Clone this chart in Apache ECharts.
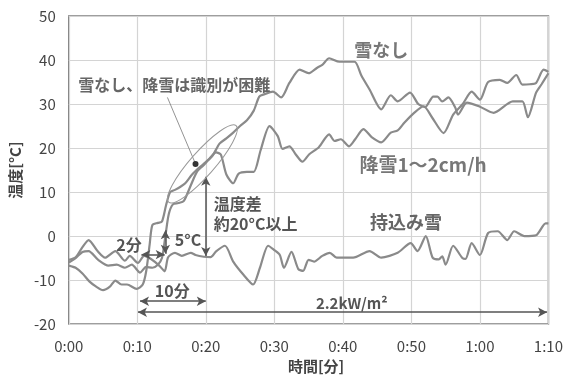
<!DOCTYPE html>
<html><head><meta charset="utf-8">
<script src="https://cdn.jsdelivr.net/npm/echarts@6/dist/echarts.min.js"></script>
<style>html,body{margin:0;padding:0;background:#fff}#c{width:566px;height:379px}</style>
</head><body><div id="c"></div>
<script>
// ---- tick labels ----
const xTickLabels = ['0:00','0:10','0:20','0:30','0:40','0:50','1:00','1:10'];
const yTicks = [-20,-10,0,10,20,30,40,50];

// ---- series: 雪なし ----
const noSnowT = [0,1,2,3,4,5,6,6.8,7.7,8.5,9.9,10.8,11.3,11.8,12.2,13,13.6,14.2,14.8,15.5,16.3,17,18,19,20,21,22,23,24,25,26,27,27.8,28.5,29.8,31,32.2,33.7,35,36.2,37,38,39.5,41.7,42.7,43.9,45.6,47,48,49.8,51,52,53.2,53.8,54.5,55.4,56.4,56.8,58.1,60,62,64.8,66.2,67,68.2,69,70];
const noSnowV = [-6.7,-7.2,-8.5,-10.3,-11.5,-12.3,-11.5,-10.1,-11,-11,-12,-11,-8,-2,2.5,3,3.3,7,10,10.5,11.2,12,14,15.5,16.8,18.3,21,22.2,23.5,25,26.3,28.5,31.7,32.2,32.8,31.5,34.8,37.8,37,38.2,38.9,40.4,39.6,39.6,36.5,33.3,28.8,32,30.6,32.6,30,29.3,31.7,31.7,30.6,31.5,29.2,27.6,30.3,29.4,28,30.6,30.6,27,32.6,34.5,37];

// ---- series: 降雪1~2cm/h ----
const snowfallT = [0,1,2,2.9,4.3,5.8,7,8.2,9.2,10.4,11.3,12.2,13,13.6,14.1,14.6,15.2,16,16.8,17.8,18.7,19.6,20.5,21.5,22.2,23,24,24.8,26,27,28,29.3,30.5,31.2,32.2,33.1,34.1,35.1,36.5,38,38.8,39.7,40.9,41.8,43,44.2,45.6,47,48,49,50.4,51.8,53,54.7,56.1,57.5,58.8,60,61.2,62.9,64,65.3,66.2,67.3,68.2,69.3,70];
const snowfallV = [-6,-5,-3.6,-3.4,-5.4,-6.7,-6.5,-7.2,-6.5,-8.3,-7,-7.2,-6.5,-5,0,5,7.2,7.5,8,11.5,14.6,16,17.5,19,18.5,14,12,14.2,14.6,14.6,19.5,25,22.7,19.8,20.4,18.6,16.9,18.6,20.2,23.1,21.6,22,20.4,22,24.3,22.5,21.3,23.5,24,25.8,28,29.5,27,23.4,27.6,30,32.8,31,35,35.5,34.8,36.6,34.4,34.5,34.8,37.8,37.3];

// ---- series: 持込み雪 ----
const carriedT = [0,1,2,2.9,4.2,5.3,6.8,8.2,8.9,10.1,11,12,13.2,14,14.5,15.5,16.5,17.8,18.5,19.7,20.7,21.5,22.8,24,25.5,26.9,27.9,29.1,30,30.8,31.4,32.5,33.5,34.2,35,35.8,37,38.1,39.1,41.5,43.9,45.6,48,49.9,50.9,52.1,53.1,54,54.5,55,56.1,57.4,57.9,58.8,60,61.2,62.6,64,65,66.5,68.2,69.6,70];
const carriedV = [-5.4,-4.8,-2.5,-0.9,-3.4,-4.9,-3.4,-5.6,-4.5,-6.1,-4.5,-5.2,-6.7,-8,-4.8,-3.8,-4.5,-3.8,-4.3,-4.7,-4.8,-3.5,-2.2,-5.8,-8.8,-11,-7.2,-2.2,-3.2,-4.3,-7.2,-3.6,-7.5,-7.9,-5.4,-5.8,-4.5,-3.8,-4.9,-4.9,-3.4,-4.9,-3.8,-1.6,-3.4,0,-4.9,-5.3,-4.6,-6.5,-2.2,-4.9,-5.2,-1.6,-4.3,0.7,1.1,-0.9,1.1,0,0.2,2.9,2.9];

const zip = (t, v) => t.map((x, i) => [x, v[i]]);

const lineColor = '#8a8a8a';
const annColor = '#555';
const font = '"Noto Sans CJK JP", "Noto Sans", sans-serif';

const chart = echarts.init(document.getElementById('c'), null, {renderer: 'canvas'});

const arrowSym = ['arrow', 'arrow'];
const arrows = [
  [[10.6, -4.2], [14.0, -4.2]],
  [[14.1, 1.3], [14.1, -4.0]],
  [[20, 13.5], [20, -4.5]],
  [[10.4, -14.8], [20, -14.8]],
  [[10.1, -17.3], [69.8, -17.3]]
];

const baseSeries = (name, data) => ({
  name, type: 'line', data, showSymbol: false, smooth: 0.25,
  lineStyle: {color: lineColor, width: 2.2}, itemStyle: {color: lineColor}, z: 3
});

chart.setOption({
  animation: false,
  grid: {left: 63, top: 16, width: 487, height: 311, show: true, borderColor: '#7f7f7f', borderWidth: 1.5, backgroundColor: 'transparent'},
  xAxis: {
    type: 'value', min: 0, max: 70, interval: 10,
    name: '時間[分]', nameLocation: 'middle', nameGap: 34,
    nameTextStyle: {fontFamily: font, fontSize: 15, fontWeight: 'bold', color: '#444', padding: [0, 0, 0, 15]},
    axisLine: {show: false}, axisTick: {show: false},
    axisLabel: {fontFamily: font, fontSize: 15, color: '#444', margin: 15, formatter: v => xTickLabels[Math.round(v / 10)]},
    splitLine: {lineStyle: {color: '#d4d4d4', width: 1.2}}
  },
  yAxis: {
    type: 'value', min: yTicks[0], max: yTicks[yTicks.length - 1], interval: 10,
    name: '温度[°C]', nameLocation: 'middle', nameGap: 42, nameRotate: 90,
    nameTextStyle: {fontFamily: font, fontSize: 15, fontWeight: 'bold', color: '#444'},
    axisLine: {show: false}, axisTick: {show: false},
    axisLabel: {fontFamily: font, fontSize: 15, color: '#444', margin: 13},
    splitLine: {lineStyle: {color: '#d4d4d4', width: 1.2}}
  },
  series: [
    baseSeries('雪なし', zip(noSnowT, noSnowV)),
    baseSeries('降雪1~2cm/h', zip(snowfallT, snowfallV)),
    Object.assign(baseSeries('持込み雪', zip(carriedT, carriedV)), {
      markLine: {
        silent: true, animation: false, symbol: arrowSym, symbolSize: [7, 9],
        label: {show: false},
        lineStyle: {color: annColor, width: 1.5, type: 'solid'},
        data: arrows.map(a => [{coord: a[0]}, {coord: a[1]}]).concat([
          [{coord: [14.4, 31.5], symbol: 'none', lineStyle: {color: '#777', width: 0.8}},
           {coord: [18.5, 16.4], symbol: 'none'}]
        ])
      },
      markPoint: {
        silent: true, animation: false, symbol: 'circle', symbolSize: 6,
        itemStyle: {color: '#333'}, label: {show: false},
        data: [{coord: [18.5, 16.4]}]
      }
    })
  ]
});

// ---- text annotations (data coords) ----
const texts = [
  {t: '雪なし、降雪は識別が困難', at: [15.4, 34.4], size: 16, align: 'center', color: '#666'},
  {t: '雪なし', at: [45.6, 42.3], size: 18, align: 'center', color: '#777'},
  {t: '降雪1～2cm/h', at: [51.7, 16.2], size: 19, align: 'center', color: '#777'},
  {t: '持込み雪', at: [49.2, 3.1], size: 18, align: 'center', color: '#666'},
  {t: '温度差', at: [21.15, 7.4], size: 16, align: 'left', color: '#555'},
  {t: '約20°C以上', at: [21.15, 2.7], size: 16, align: 'left', color: '#555'},
  {t: '5°C', at: [17.4, -0.9], size: 16, align: 'center', color: '#555'},
  {t: '2分', at: [8.8, -2.0], size: 16, align: 'center', color: '#555'},
  {t: '10分', at: [15.1, -12.4], size: 16, align: 'center', color: '#555'},
  {t: '2.2kW/m²', at: [41.3, -15.3], size: 15, align: 'center', color: '#555'}
];
const ellipseCenter = [19.5, 16.4];

const g = texts.map(o => {
  const p = chart.convertToPixel({gridIndex: 0}, o.at);
  return {type: 'text', x: p[0], y: p[1], z: 10, style: {text: o.t, fill: o.color, font: 'bold ' + o.size + 'px ' + font, align: o.align, verticalAlign: 'middle'}};
});
const ec = chart.convertToPixel({gridIndex: 0}, ellipseCenter);
g.push({type: 'ellipse', x: ec[0], y: ec[1], rotation: 48.6 * Math.PI / 180, z: 9,
  shape: {cx: 0, cy: 0, rx: 51, ry: 12}, style: {fill: 'none', stroke: '#999', lineWidth: 1}});
chart.setOption({graphic: g});
</script>
</body></html>
